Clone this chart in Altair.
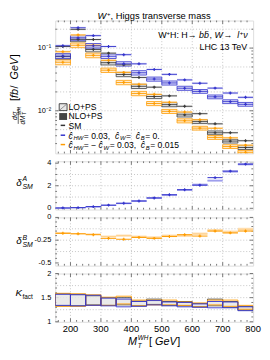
import altair as alt
import pandas as pd

# ------------------------------------------------------------------ data
bin_lo = [150, 200, 250, 300, 350, 400, 450, 500, 550, 600, 650, 700, 750]
bin_hi = [200, 250, 300, 350, 400, 450, 500, 550, 600, 650, 700, 750, 800]

# differential cross sections [fb/GeV]
sm_nlo = [0.106, 0.199, 0.137, 0.083, 0.054, 0.034, 0.0238, 0.0173, 0.0118, 0.0090, 0.0062, 0.00447, 0.00333]
sm_lo = [0.0731, 0.138, 0.0951, 0.0585, 0.0380, 0.0246, 0.0169, 0.01254, 0.00861, 0.00672, 0.00446, 0.00329, 0.00260]
hw_nlo = [0.109, 0.211, 0.158, 0.106, 0.0785, 0.0561, 0.0456, 0.0381, 0.0311, 0.0275, 0.0230, 0.0192, 0.0164]
hw_lo = [0.0747, 0.1455, 0.109, 0.0741, 0.0561, 0.0404, 0.0321, 0.0278, 0.0229, 0.0204, 0.0167, 0.0140, 0.0127]
w_nlo = [0.0875, 0.162, 0.111, 0.0639, 0.0410, 0.0265, 0.0183, 0.0137, 0.00956, 0.0072, 0.00527, 0.00371, 0.00283]
w_lo = [0.0595, 0.111, 0.0766, 0.0444, 0.0283, 0.0189, 0.01307, 0.00979, 0.00693, 0.00529, 0.00376, 0.00269, 0.00218]
nlo_unc = [0.045, 0.04, 0.04, 0.04, 0.04, 0.04, 0.04, 0.04, 0.04, 0.04, 0.04, 0.04, 0.04]
lo_unc = [0.09, 0.085, 0.085, 0.08, 0.08, 0.08, 0.075, 0.075, 0.075, 0.07, 0.07, 0.07, 0.07]

# delta^A_SM (c_HW = 0.03)
dA_nlo = [0.03, 0.06, 0.15, 0.28, 0.45, 0.65, 0.92, 1.20, 1.65, 2.05, 2.72, 3.30, 3.92]
dA_lo = [0.02, 0.05, 0.13, 0.26, 0.43, 0.64, 0.90, 1.18, 1.62, 2.10, 2.45, 3.25, 3.90]
dA_unc = [0.05, 0.05, 0.06, 0.06, 0.06, 0.07, 0.07, 0.08, 0.08, 0.09, 0.10, 0.10, 0.10]

# delta^B_SM
dB_nlo = [-0.175, -0.180, -0.190, -0.230, -0.240, -0.220, -0.230, -0.210, -0.190, -0.205, -0.150, -0.170, -0.150]
dB_lo = [-0.170, -0.178, -0.185, -0.210, -0.200, -0.210, -0.220, -0.200, -0.200, -0.180, -0.140, -0.160, -0.130]
dB_unc = [0.008, 0.008, 0.008, 0.012, 0.012, 0.012, 0.012, 0.012, 0.014, 0.014, 0.014, 0.016, 0.016]

# K factor bands
k_sm_hi = [1.58, 1.57, 1.54, 1.50, 1.50, 1.43, 1.47, 1.42, 1.42, 1.38, 1.47, 1.42, 1.32]
k_sm_lo = [1.33, 1.33, 1.35, 1.34, 1.35, 1.33, 1.36, 1.34, 1.33, 1.31, 1.33, 1.30, 1.24]
k_hw_hi = [1.57, 1.56, 1.55, 1.49, 1.47, 1.42, 1.44, 1.41, 1.40, 1.37, 1.42, 1.41, 1.31]
k_hw_lo = [1.34, 1.33, 1.34, 1.33, 1.31, 1.32, 1.35, 1.33, 1.31, 1.30, 1.29, 1.29, 1.23]
k_w_hi = [1.59, 1.58, 1.56, 1.51, 1.53, 1.45, 1.45, 1.45, 1.41, 1.39, 1.45, 1.45, 1.34]
k_w_lo = [1.32, 1.32, 1.34, 1.34, 1.37, 1.33, 1.35, 1.35, 1.34, 1.31, 1.35, 1.32, 1.26]

# axis ticks / labels / grids
x_labels = [200, 300, 400, 500, 600, 700, 800]
x_label_text = ["200", "300", "400", "500", "600", "700", "800"]
x_major = [200, 300, 400, 500, 600, 700]
x_minor = [160, 180, 220, 240, 260, 280, 320, 340, 360, 380, 420, 440, 460, 480,
           520, 540, 560, 580, 620, 640, 660, 680, 720, 740, 760, 780]
top_major = [0.01, 0.1]
top_label_text = ["10⁻²", "10⁻¹"]
top_minor = [0.003, 0.004, 0.005, 0.006, 0.007, 0.008, 0.009,
             0.02, 0.03, 0.04, 0.05, 0.06, 0.07, 0.08, 0.09, 0.2]
top_grid = [0.2, 0.1, 0.05, 0.02, 0.01, 0.005]
a_major = [0, 2, 4]
a_label_text = ["0", "2", "4"]
a_minor = [0.5, 1, 1.5, 2.5, 3, 3.5]
a_grid = [1, 2, 3]
b_major = [0, -0.25, -0.5]
b_label_text = ["0", "-0.25", "-0.5"]
b_minor = [-0.05, -0.1, -0.15, -0.2, -0.3, -0.35, -0.4, -0.45]
b_grid = [-0.125, -0.25, -0.375]
k_major = [1, 1.5, 2]
k_label_text = ["1", "1.5", "2"]
k_minor = [1.1, 1.2, 1.3, 1.4, 1.6, 1.7, 1.8, 1.9]
k_grid = [1.25, 1.5, 1.75]

# ------------------------------------------------------------------ style
FONT = "Liberation Sans"
W = 201
H_TOP, H_A, H_B, H_K = 135, 49, 49, 49
SER = ["SM", "W", "HW"]
LINE = {"SM": "#3a3a3a", "HW": "#3333cc", "W": "#ff9c00"}
NLO_FILL = {"SM": "#929292", "HW": "#8585ec", "W": "#ffbf60"}
LO_FILL = {"SM": "#e2e2e2", "HW": "#d6d6f8", "W": "#ffe8c4"}
FRAME = "#555555"

xs = alt.Scale(domain=[150, 800], nice=False, zero=False)
one = pd.DataFrame({"k": [0]})


def cmap(d):
    return alt.Scale(domain=SER, range=[d[s] for s in SER])


CW = {' ': .278, '.': .278, ',': .278, ':': .278, '=': .584, '+': .584, '−': .584,
      '-': .333, '/': .278, '[': .278, ']': .278, '→': 1.0, 'ĉ': .5, 'δ': .556,
      'σ': .6, 'ν': .5, '\u0304': 0.0, 'W': .944, 'M': .833, 'H': .722, 'C': .722,
      'G': .778, 'O': .778, 'L': .556, 'T': .611, 'f': .278, 'l': .222, 'i': .222,
      'm': .833, 'r': .333, 't': .278, 's': .5, 'c': .5, 'v': .5, 'x': .5, 'y': .5,
      'k': .5, 'j': .222}


def cw(ch):
    if ch in CW:
        return CW[ch]
    if ch.isdigit():
        return .556
    if ch.isupper():
        return .667
    return .556


def tw(t, size, it=False):
    return sum(cw(c) for c in t) * size + (0.6 if it else 0.0)


def rich(pieces, x0, y0, angle=0, anchor="left", color="#000000"):
    """pieces: (text, size, rise, italic, advance)"""
    total = 0.0
    for p in pieces:
        adv = p[4] if len(p) > 4 else True
        if adv:
            total += tw(p[0], p[1], p[3])
    s = 0.0
    if anchor == "center":
        s = -total / 2
    elif anchor == "right":
        s = -total
    if angle == 0:
        d, u = (1, 0), (0, -1)
    else:  # 270
        d, u = (0, -1), (-1, 0)
    rows = []
    for p in pieces:
        t, size, rise, it = p[0], p[1], p[2], p[3]
        adv = p[4] if len(p) > 4 else True
        rows.append(dict(px=x0 + s * d[0] + rise * u[0], py=y0 + s * d[1] + rise * u[1],
                         t=t, fs=size, it=it, ang=angle, c=color))
        if adv:
            s += tw(t, size, it)
    return rows


def text_layers(rows):
    df = pd.DataFrame(rows)
    out = []
    for it in (False, True):
        sub = df[df.it == it]
        if len(sub) == 0:
            continue
        out.append(
            alt.Chart(sub).mark_text(align="left", baseline="alphabetic", font=FONT,
                                     fontStyle="italic" if it else "normal").encode(
                x=alt.X("px:Q", scale=None), y=alt.Y("py:Q", scale=None), text="t:N",
                size=alt.Size("fs:Q", scale=None), angle=alt.Angle("ang:Q", scale=None),
                color=alt.Color("c:N", scale=None)))
    return out


def vrect(x1, y1, x2, y2, **kw):
    return alt.Chart(one).mark_rect(**kw).encode(
        x=alt.value(x1), x2=alt.value(x2), y=alt.value(y1), y2=alt.value(y2))


def vrule(x1, y1, x2, y2, **kw):
    return alt.Chart(one).mark_rule(**kw).encode(
        x=alt.value(x1), x2=alt.value(x2), y=alt.value(y1), y2=alt.value(y2))


def frame_layers(yscale, ymaj, ymin, ygrid, ylabels, h, xlab=False):
    L = []
    gs = dict(strokeDash=[1, 2], color="#b8b8b8", strokeWidth=0.8)
    L.append(alt.Chart(pd.DataFrame({"g": x_major})).mark_rule(**gs).encode(
        x=alt.X("g:Q", scale=xs, axis=None)))
    L.append(alt.Chart(pd.DataFrame({"g": ygrid})).mark_rule(**gs).encode(
        y=alt.Y("g:Q", scale=yscale, axis=None)))
    tk = dict(color=FRAME, strokeWidth=0.8)
    for vals, ln in ((x_major, 3.5), (x_minor, 1.8)):
        d = pd.DataFrame({"t": vals})
        L.append(alt.Chart(d).mark_rule(**tk).encode(
            x=alt.X("t:Q", scale=xs, axis=None), y=alt.value(h), y2=alt.value(h - ln)))
        L.append(alt.Chart(d).mark_rule(**tk).encode(
            x=alt.X("t:Q", scale=xs, axis=None), y=alt.value(0), y2=alt.value(ln)))
    for vals, ln in ((ymaj, 3.5), (ymin, 1.8)):
        d = pd.DataFrame({"t": vals})
        L.append(alt.Chart(d).mark_rule(**tk).encode(
            y=alt.Y("t:Q", scale=yscale, axis=None), x=alt.value(0), x2=alt.value(ln)))
        L.append(alt.Chart(d).mark_rule(**tk).encode(
            y=alt.Y("t:Q", scale=yscale, axis=None), x=alt.value(W), x2=alt.value(W - ln)))
    # tick labels (left)
    L.append(alt.Chart(pd.DataFrame({"t": ymaj, "lab": ylabels})).mark_text(
        align="right", baseline="middle", font=FONT, fontSize=7.5, color="#000", dx=-4).encode(
        y=alt.Y("t:Q", scale=yscale, axis=None), x=alt.value(0), text="lab:N"))
    if xlab:
        L.append(alt.Chart(pd.DataFrame({"t": x_labels, "lab": x_label_text})).mark_text(
            align="center", baseline="top", font=FONT, fontSize=9.5, color="#000").encode(
            x=alt.X("t:Q", scale=xs, axis=None), y=alt.value(h + 2), text="lab:N"))
    return L


X = alt.X("x:Q", scale=xs, axis=None)

# ------------------------------------------------------------------ top panel
rows = []
for name, nlo, lo in (("SM", sm_nlo, sm_lo), ("W", w_nlo, w_lo), ("HW", hw_nlo, hw_lo)):
    for i in range(len(bin_lo)):
        xc = (bin_lo[i] + bin_hi[i]) / 2
        rows.append(dict(s=name, o="LO", x=bin_lo[i], x2=bin_hi[i], xc=xc, v=lo[i],
                         a=lo[i] * (1 - lo_unc[i]), b=lo[i] * (1 + lo_unc[i])))
        rows.append(dict(s=name, o="NLO", x=bin_lo[i], x2=bin_hi[i], xc=xc, v=nlo[i],
                         a=nlo[i] * (1 - nlo_unc[i]), b=nlo[i] * (1 + nlo_unc[i])))
top_df = pd.DataFrame(rows)

yT = alt.Scale(type="log", domain=[0.00209, 0.2752], nice=False)
base = alt.Chart(top_df)
top_layers = frame_layers(yT, top_major, top_minor, top_grid, top_label_text, H_TOP)
top_layers += [
    base.transform_filter("datum.o == 'LO'").mark_rect(clip=True, fillOpacity=0.75, strokeWidth=0.8).encode(
        x=X, x2="x2:Q", y=alt.Y("a:Q", scale=yT, axis=None), y2="b:Q",
        fill=alt.Fill("s:N", scale=cmap(LO_FILL), legend=None),
        stroke=alt.Stroke("s:N", scale=cmap(LINE), legend=None)),
    base.transform_filter("datum.o == 'NLO'").mark_rect(clip=True, opacity=0.75).encode(
        x=X, x2="x2:Q", y=alt.Y("a:Q", scale=yT, axis=None), y2="b:Q",
        fill=alt.Fill("s:N", scale=cmap(NLO_FILL), legend=None)),
    base.mark_rule(clip=True, strokeWidth=0.9).encode(
        x=X, x2="x2:Q", y=alt.Y("v:Q", scale=yT, axis=None),
        color=alt.Color("s:N", scale=cmap(LINE), legend=None)),
    base.mark_point(clip=True, shape="cross", filled=True, size=9, opacity=1).encode(
        x=alt.X("xc:Q", scale=xs, axis=None), y=alt.Y("v:Q", scale=yT, axis=None),
        color=alt.Color("s:N", scale=cmap(LINE), legend=None)),
]
# legend symbols
top_layers += [
    vrect(4, 84.5, 12, 91.5, fill="#e8e8e8", stroke="#222", strokeWidth=0.8),
    vrule(4.5, 91, 11.5, 85, color="#555", strokeWidth=0.6),
    vrect(4, 94, 12, 101, fill="#444444"),
    vrule(5.5, 106.5, 10, 106.5, color="#333", strokeWidth=1.5),
    vrule(5.5, 116.5, 10, 116.5, color=LINE["HW"], strokeWidth=1.5),
    vrule(5.5, 126, 10, 126, color=LINE["W"], strokeWidth=1.5),
]
LS = 8.7
SB = 6.0
trows = []
trows += rich([("W", 9.5, 0, True), ("+", 6, 3, False), (", Higgs transverse mass", 9.5, 0, False)],
              100.5, -1.5, anchor="center")
trows += rich([("W", 9, 0, False), ("+", 6, 3.5, False), ("H: H", 9, 0, False), ("→ ", 9, 0, False),
               ("bb\u0304", 9, 0, True), (", ", 9, 0, False), ("W", 9, 0, True), (" → ", 9, 0, False),
               ("l", 9, 0, True), ("+", 6, 3.5, False), ("ν", 9, 0, True)], 196, 18, anchor="right")
trows += rich([("LHC 13 TeV", 9, 0, False)], 196, 29.5, anchor="right")
trows += rich([("LO+PS", LS, 0, False)], 13.5, 91)
trows += rich([("NLO+PS", LS, 0, False)], 13.5, 100.5)
trows += rich([("SM", LS, 0, False)], 13.5, 110)
trows += rich([("ĉ", LS, 0, True), ("HW", SB, -1.8, True), (" = 0.03, ", LS, 0, False),
               ("ĉ", LS, 0, True), ("W", SB, -1.8, True), (" = ", LS, 0, False),
               ("ĉ", LS, 0, True), ("B", SB, -1.8, True), (" = 0.", LS, 0, False)], 13.5, 120)
trows += rich([("ĉ", LS, 0, True), ("HW", SB, -1.8, True), (" = −", LS, 0, False),
               ("ĉ", LS, 0, True), ("W", SB, -1.8, True), (" = 0.03, ", LS, 0, False),
               ("ĉ", LS, 0, True), ("B", SB, -1.8, True), (" = 0.015", LS, 0, False)], 13.5, 129.5)
# y label
trows += rich([("[", 11, 0, False), ("fb", 11, 0, True), (" / ", 11, 0, False), ("GeV", 11, 0, True),
               ("]", 11, 0, False)], -38, 58, angle=270, anchor="center")
trows += rich([("d", 7, 0, True), ("σ", 7, 0, True)], -39, 96.5, angle=270, anchor="center")
trows += rich([("dM", 6.5, 0, True), ("T", 4.8, -1.6, True, False), ("WH", 4.8, 3.2, True)],
              -31.2, 96.5, angle=270, anchor="center")
top_layers += [vrule(-37.6, 88, -37.6, 105, color="#000", strokeWidth=0.6)]
top_layers += text_layers(trows)
top = alt.layer(*top_layers).properties(width=W, height=H_TOP)

# ------------------------------------------------------------------ delta A
dfa = pd.DataFrame(dict(x=bin_lo, x2=bin_hi, xc=[(a + b) / 2 for a, b in zip(bin_lo, bin_hi)],
                        n=dA_nlo, l=dA_lo, la=[l - u for l, u in zip(dA_lo, dA_unc)],
                        lb=[l + u for l, u in zip(dA_lo, dA_unc)]))
yA = alt.Scale(domain=[-0.11, 4.17], nice=False, zero=False)
baseA = alt.Chart(dfa)
A_layers = frame_layers(yA, a_major, a_minor, a_grid, a_label_text, H_A)
A_layers += [
    baseA.mark_rect(clip=True, color="#c3c3f4").encode(
        x=X, x2="x2:Q", y=alt.Y("la:Q", scale=yA, axis=None), y2="lb:Q"),
    baseA.mark_rule(clip=True, color="#8f8fe8", strokeWidth=0.9).encode(
        x=X, x2="x2:Q", y=alt.Y("l:Q", scale=yA, axis=None)),
    baseA.mark_rule(clip=True, color=LINE["HW"], strokeWidth=1).encode(
        x=X, x2="x2:Q", y=alt.Y("n:Q", scale=yA, axis=None)),
    baseA.mark_point(clip=True, shape="cross", filled=True, size=9, color=LINE["HW"], opacity=1).encode(
        x=alt.X("xc:Q", scale=xs, axis=None), y=alt.Y("n:Q", scale=yA, axis=None)),
]
A_layers += text_layers(rich([("δ", 10, 0, True), ("A", 7, 5, True, False), ("SM", 7, -3, True)],
                             -39.5, 25))
pA = alt.layer(*A_layers).properties(width=W, height=H_A)

# ------------------------------------------------------------------ delta B
dfb = pd.DataFrame(dict(x=bin_lo, x2=bin_hi, xc=[(a + b) / 2 for a, b in zip(bin_lo, bin_hi)],
                        n=dB_nlo, l=dB_lo, la=[l - u for l, u in zip(dB_lo, dB_unc)],
                        lb=[l + u for l, u in zip(dB_lo, dB_unc)]))
yB = alt.Scale(domain=[-0.53, 0.0], nice=False, zero=False)
baseB = alt.Chart(dfb)
B_layers = frame_layers(yB, b_major, b_minor, b_grid, b_label_text, H_B)
B_layers += [
    baseB.mark_rect(clip=True, color="#ffe2b8").encode(
        x=X, x2="x2:Q", y=alt.Y("la:Q", scale=yB, axis=None), y2="lb:Q"),
    baseB.mark_rule(clip=True, color="#ffcf88", strokeWidth=0.9).encode(
        x=X, x2="x2:Q", y=alt.Y("l:Q", scale=yB, axis=None)),
    baseB.mark_rule(clip=True, color=LINE["W"], strokeWidth=1).encode(
        x=X, x2="x2:Q", y=alt.Y("n:Q", scale=yB, axis=None)),
    baseB.mark_point(clip=True, shape="cross", filled=True, size=9, color=LINE["W"], opacity=1).encode(
        x=alt.X("xc:Q", scale=xs, axis=None), y=alt.Y("n:Q", scale=yB, axis=None)),
]
B_layers += text_layers(rich([("δ", 10, 0, True), ("B", 7, 5, True, False), ("SM", 7, -3, True)],
                             -39.5, 27.5))
pB = alt.layer(*B_layers).properties(width=W, height=H_B)

# ------------------------------------------------------------------ K factor
krows = []
for name, hi, lo in (("SM", k_sm_hi, k_sm_lo), ("W", k_w_hi, k_w_lo), ("HW", k_hw_hi, k_hw_lo)):
    for i in range(len(bin_lo)):
        krows.append(dict(s=name, x=bin_lo[i], x2=bin_hi[i], a=lo[i], b=hi[i]))
dfk = pd.DataFrame(krows)
yK = alt.Scale(domain=[1, 2], nice=False, zero=False)
baseK = alt.Chart(dfk)
K_layers = frame_layers(yK, k_major, k_minor, k_grid, k_label_text, H_K, xlab=True)
K_layers += [
    baseK.transform_filter("datum.s == 'SM'").mark_rect(clip=True, fill="#e6e6e6", fillOpacity=0.85,
                                                       stroke=LINE["SM"], strokeWidth=0.8).encode(
        x=X, x2="x2:Q", y=alt.Y("a:Q", scale=yK, axis=None), y2="b:Q"),
    baseK.transform_filter("datum.s != 'SM'").mark_rect(clip=True, fillOpacity=0, strokeWidth=0.9).encode(
        x=X, x2="x2:Q", y=alt.Y("a:Q", scale=yK, axis=None), y2="b:Q",
        stroke=alt.Stroke("s:N", scale=cmap(LINE), legend=None)),
]
krow = rich([("K", 10, 0, True), ("fact", 6.5, -2.5, False)], -40.5, 23)
krow += rich([("M", 11, 0, True), ("T", 6.5, -3.2, True, False), ("WH", 6.5, 4.5, True),
              (" [", 11, 0, False), ("GeV", 11, 0, True), ("]", 11, 0, False)], 100.5, 72.5, anchor="center")
K_layers += text_layers(krow)
pK = alt.layer(*K_layers).properties(width=W, height=H_K)

chart = alt.vconcat(top, pA, pB, pK, spacing=8, bounds="flush").properties(
    padding={"left": 0, "top": 0, "right": 0, "bottom": 0}
).configure_view(stroke=FRAME, strokeWidth=1).configure(font=FONT)

chart.save("out.html", embed_options={"renderer": "svg", "actions": False})
